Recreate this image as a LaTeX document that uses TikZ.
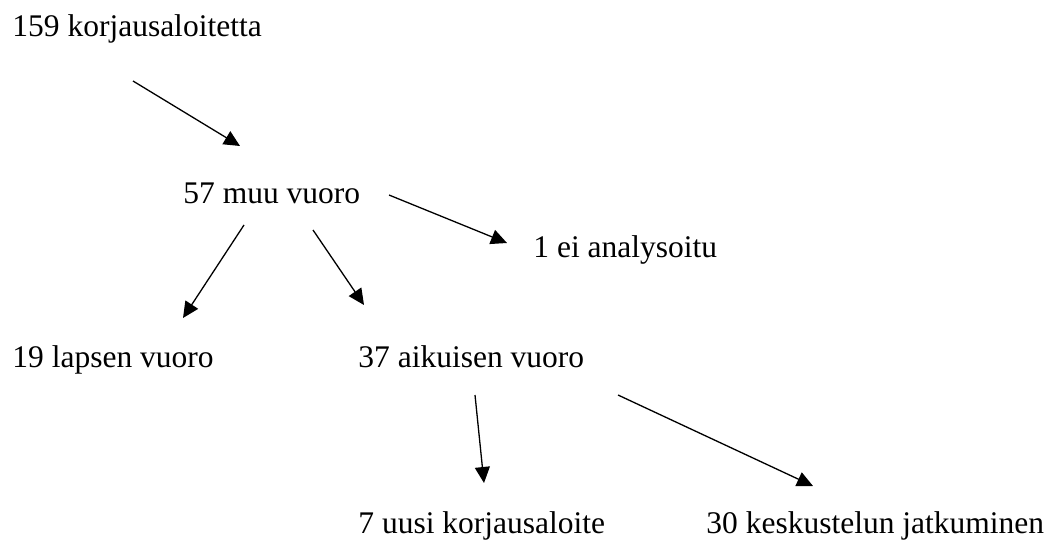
\documentclass[tikz,border=0pt]{standalone}
\usepackage{fontspec}
\setmainfont{Liberation Serif}
\usepackage{tikz}
\usetikzlibrary{arrows.meta,positioning}
\tikzset{
    %Define standard arrow tip
    >={Triangle[length=8pt,width=7.5pt]},
    %Define style for labels
    txtnode/.style={
             inner sep=0pt,
             anchor=base west,
             font=\fontsize{15.75}{19}\selectfont},
    % Define arrow style
    txtarrow/.style={
            ->,
            line width=0.65pt}
}
\begin{document}
\begin{tikzpicture}[x=0.5pt,y=-0.5pt]
    \useasboundingbox (0,0) rectangle (1052,540);
    \node[txtnode] (korj) at (12,37) {159 korjausaloitetta};
    \node[txtnode, below right=83pt and 85.5pt of korj.base west, anchor=base west] (muu) {57 muu vuoro};
    \node[txtnode, below right=27pt and 175pt of muu.base west, anchor=base west] (eian) {1 ei analysoitu};
    \node[txtnode, below left=82pt and 85.5pt of muu.base west, anchor=base west] (lapsen) {19 lapsen vuoro};
    \node[txtnode, right=173pt of lapsen.base west, anchor=base west] (aikuisen) {37 aikuisen vuoro};
    \node[txtnode, below=83pt of aikuisen.base west, anchor=base west] (uusi) {7 uusi korjausaloite};
    \node[txtnode, right=174pt of uusi.base west, anchor=base west] (jatko) {30 keskustelun jatkuminen};
    \draw[txtarrow] ([shift={(121,44)}]korj.base west) -- ([shift={(57,-57)}]muu.base west);
    \draw[txtarrow] ([shift={(206,-8)}]muu.base west) -- ([shift={(-26,-14)}]eian.base west);
    \draw[txtarrow] ([shift={(61,22)}]muu.base west) -- ([shift={(171,-49)}]lapsen.base west);
    \draw[txtarrow] ([shift={(130,27)}]muu.base west) -- ([shift={(6,-62)}]aikuisen.base west);
    \draw[txtarrow] ([shift={(117,28)}]aikuisen.base west) -- ([shift={(126,-50)}]uusi.base west);
    \draw[txtarrow] ([shift={(260,28)}]aikuisen.base west) -- ([shift={(107,-47)}]jatko.base west);
  \end{tikzpicture}
\end{document}
